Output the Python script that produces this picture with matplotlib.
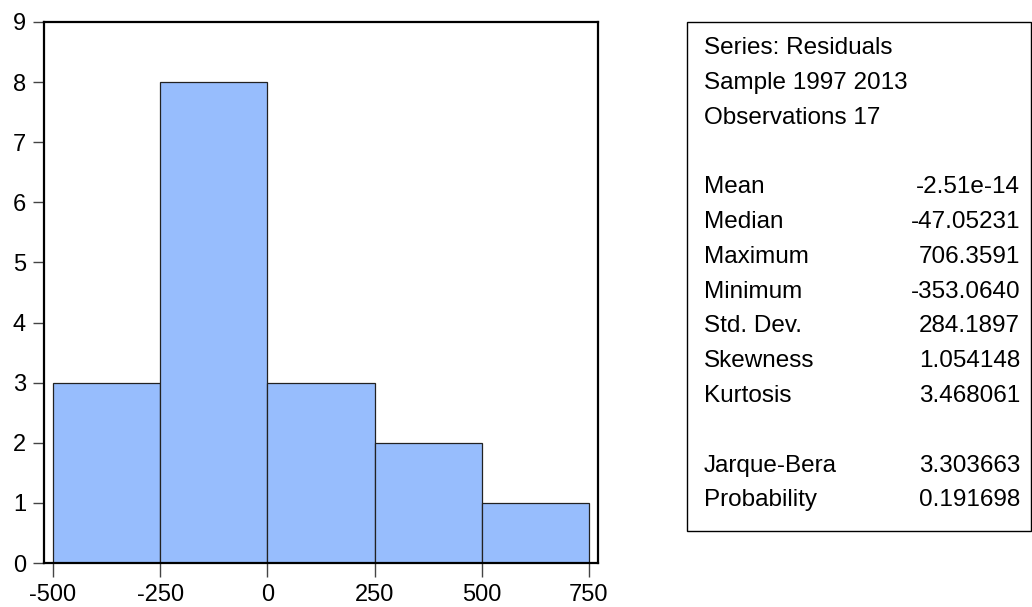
import numpy as np
import matplotlib
matplotlib.use("Agg")
import matplotlib.pyplot as plt
from matplotlib.patches import Rectangle

# --- dados ---
bin_edges = [-500, -250, 0, 250, 500, 750]
counts = [3, 8, 3, 2, 1]
x_ticks = [-500, -250, 0, 250, 500, 750]
y_ticks = list(range(0, 10))

header_lines = ["Series: Residuals", "Sample 1997 2013", "Observations 17"]
stat_names = ["Mean", "Median", "Maximum", "Minimum", "Std. Dev.", "Skewness", "Kurtosis"]
stat_values = ["-2.51e-14", "-47.05231", "706.3591", "-353.0640", "284.1897", "1.054148", "3.468061"]
test_names = ["Jarque-Bera", "Probability"]
test_values = ["3.303663", "0.191698"]

plt.rcParams['font.family'] = ['Liberation Sans', 'DejaVu Sans']

W, H = 1032, 607
fig = plt.figure(figsize=(W / 100, H / 100), dpi=100)

# eixo do histograma (em pixels: esquerda 44, direita 598, topo 22, base 563)
ax = fig.add_axes([44 / W, (H - 563) / H, (598 - 44) / W, (563 - 22) / H])
edges = np.array(bin_edges)
ax.bar(edges[:-1], counts, width=np.diff(edges), align='edge',
       color='#97BDFD', edgecolor='#222222', linewidth=0.9)

ax.set_xlim(-521, 771)
ax.set_ylim(0, 9)
ax.set_xticks(x_ticks)
ax.set_xticklabels([str(v) for v in x_ticks])
ax.set_yticks(y_ticks)
ax.tick_params(axis='x', length=10, width=1, color='#444444', pad=5, labelsize=17)
ax.tick_params(axis='y', length=8, width=1, color='#444444', pad=5, labelsize=17)
for s in ax.spines.values():
    s.set_linewidth(1.6)
    s.set_color('black')

# caixa de estatísticas
def fx(px):
    return px / W

def fy(py):
    return (H - py) / H

box = Rectangle((fx(687), fy(531)), fx(1031) - fx(687), fy(22) - fy(531),
                transform=fig.transFigure, fill=False, edgecolor='black', linewidth=1.0)
fig.patches.append(box)

y0 = 48
step = 34.8
fs = 17.5
rows = []
for i, t in enumerate(header_lines):
    rows.append((i, t, None))
for i, (n, v) in enumerate(zip(stat_names, stat_values)):
    rows.append((4 + i, n, v))
for i, (n, v) in enumerate(zip(test_names, test_values)):
    rows.append((12 + i, n, v))

for idx, label, val in rows:
    yy = fy(y0 + idx * step)
    fig.text(fx(704), yy, label, ha='left', va='center', fontsize=fs)
    if val is not None:
        fig.text(fx(1020), yy, val, ha='right', va='center', fontsize=fs)

fig.savefig("out.png", dpi=100)
